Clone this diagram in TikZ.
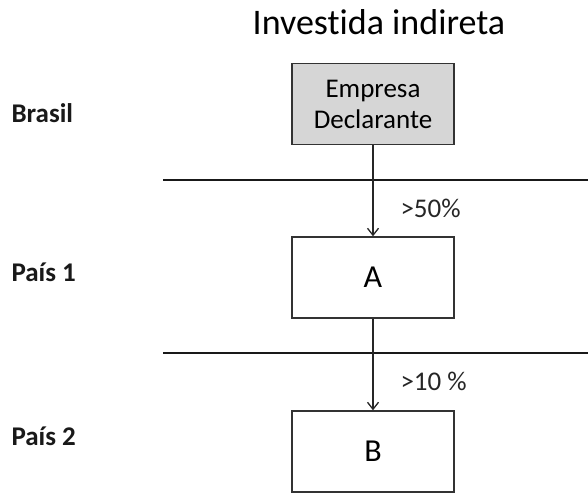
\documentclass[tikz,border=0pt]{standalone}
\usepackage{fontspec}
\setmainfont[Ligatures=NoCommon]{Carlito}
\usetikzlibrary{arrows.meta}
\begin{document}
\begin{tikzpicture}[x=1pt,y=-1pt,
  box/.style={draw=black!80,line width=1.4pt,minimum width=162pt,minimum height=81pt,inner sep=0pt,align=center,text=black},
  sep/.style={draw=black!90,line width=2.3pt},
  arr/.style={draw=black!85,line width=1.3pt,-{Straight Barb[length=7pt,width=11pt,line width=1.3pt]}},
  lab/.style={font=\fontsize{27}{30}\selectfont\bfseries,anchor=west,text=black!90},
  pct/.style={font=\fontsize{27}{30}\selectfont,anchor=west,text=black!85}]
\useasboundingbox (0,0) rectangle (588,495);
\node[font=\fontsize{36}{40}\selectfont,text=black] (title) at (379,22) {Investida indireta};
\node[box,fill=black!16,font=\fontsize{27}{31}\selectfont] (emp) at (373,104) {Empresa\\Declarante};
\node[box,font=\fontsize{32}{36}\selectfont] (a) at (373,277.5) {A};
\node[box,font=\fontsize{32}{36}\selectfont] (b) at (373,451.5) {B};
\coordinate (l1a) at (163,180); \coordinate (l1b) at (588,180);
\coordinate (l2a) at (163,353); \coordinate (l2b) at (588,353);
\draw[sep] (l1a) -- (l1b);
\draw[sep] (l2a) -- (l2b);
\draw[arr] (emp) -- (a);
\draw[arr] (a) -- (b);
\node[pct] (p50) at (397,208) {>50\%};
\node[pct] (p10) at (397,381) {>10 \%};
\node[lab] (br) at (8,113) {Brasil};
\node[lab] (p1) at (8,272) {País 1};
\node[lab] (p2) at (8,436) {País 2};
\end{tikzpicture}
\end{document}
